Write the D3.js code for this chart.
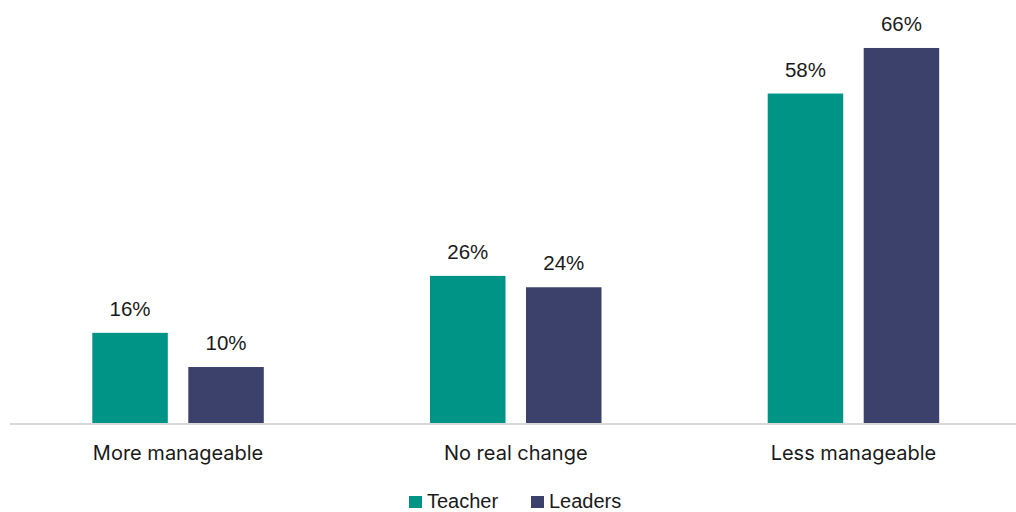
<!DOCTYPE html>
<html>
<head>
<meta charset="utf-8">
<script src="https://cdn.jsdelivr.net/npm/d3@7"></script>
<style>
  html, body { margin: 0; padding: 0; background: #fff; }
  svg { display: block; }
</style>
</head>
<body>
<svg id="chart" width="1016" height="512"></svg>
<script>
// Workload change by group
const categories = ["More manageable", "No real change", "Less manageable"];
const seriesNames = ["Teacher", "Leaders"];
const teacherValues = [16, 26, 58];
const leaderValues = [10, 24, 66];
const seriesColors = ["#009486", "#3B416B"];

const rows = categories.map((c, i) => ({
  category: c,
  values: [
    { series: seriesNames[0], value: teacherValues[i] },
    { series: seriesNames[1], value: leaderValues[i] }
  ]
}));

const svg = d3.select("#chart");
const left = 10, right = 1016, baseline = 424;

const x0 = d3.scaleBand()
  .domain(categories)
  .range([9.2, 1022.3])
  .paddingInner(0.4922)
  .paddingOuter(0.2461);

const x1 = d3.scaleBand()
  .domain(seriesNames)
  .range([0, x0.bandwidth()])
  .paddingInner(0.2135)
  .paddingOuter(0);

const y = d3.scaleLinear().domain([0, 74.42]).range([baseline, 0]);
const color = d3.scaleOrdinal().domain(seriesNames).range(seriesColors);

const groups = svg.append("g").selectAll("g")
  .data(rows)
  .join("g")
  .attr("transform", d => `translate(${x0(d.category)},0)`);

groups.selectAll("rect")
  .data(d => d.values)
  .join("rect")
  .attr("x", d => x1(d.series))
  .attr("y", d => y(d.value))
  .attr("width", x1.bandwidth())
  .attr("height", d => y(0) - y(d.value))
  .attr("fill", d => color(d.series));

groups.selectAll("text.val")
  .data(d => d.values)
  .join("text")
  .attr("class", "val")
  .attr("x", d => x1(d.series) + x1.bandwidth() / 2)
  .attr("y", d => y(d.value) - 17)
  .attr("text-anchor", "middle")
  .attr("font-family", "Liberation Sans, Arial, sans-serif")
  .attr("font-size", 20.5)
  .attr("fill", "#1a1a1a")
  .text(d => d.value + "%");

// Category axis
const xAxis = svg.append("g")
  .attr("transform", `translate(0,${baseline})`)
  .call(d3.axisBottom(x0).tickSize(0).tickPadding(22));
xAxis.select(".domain")
  .attr("stroke", "#d9d9d9")
  .attr("stroke-width", 2)
  .attr("d", `M${left},0H${right}`);
xAxis.selectAll("text")
  .attr("font-family", "Inter, 'Noto Sans', sans-serif")
  .attr("font-size", 20)
  .attr("fill", "#1a1a1a");

// Legend
const legendItems = [
  { name: seriesNames[0], x: 409 },
  { name: seriesNames[1], x: 531 }
];
const legend = svg.append("g");
const li = legend.selectAll("g").data(legendItems).join("g")
  .attr("transform", d => `translate(${d.x},0)`);
li.append("rect")
  .attr("x", 0).attr("y", 496)
  .attr("width", 13).attr("height", 12)
  .attr("fill", d => color(d.name));
li.append("text")
  .attr("x", 18).attr("y", 508)
  .attr("font-family", "Liberation Sans, Arial, sans-serif")
  .attr("font-size", 20)
  .attr("fill", "#1a1a1a")
  .text(d => d.name);
</script>
</body>
</html>
